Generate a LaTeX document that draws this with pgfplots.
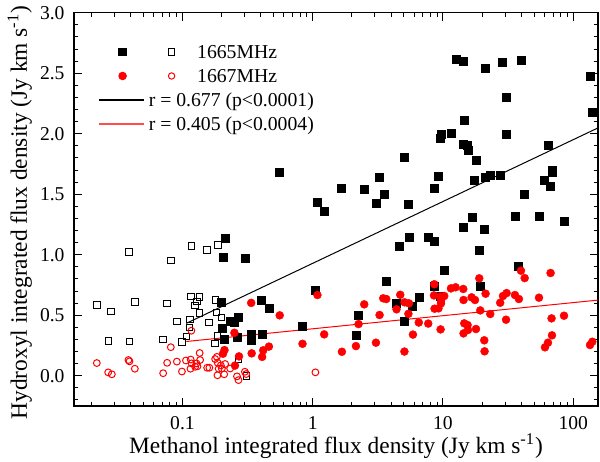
\documentclass[border=0pt]{standalone}
\usepackage{fontspec}
\setmainfont{Liberation Serif}
\usepackage{pgfplots}
\pgfplotsset{compat=1.18}
\usepackage{pgfplotstable}

\pgfplotstableread{
x y
0.556 1.681
1.093 1.431
0.212 1.136
0.205 0.979
0.305 0.967
1.051 0.706
0.197 0.607
0.406 0.624
0.461 0.554
0.231 0.452
0.251 0.441
0.270 0.481
0.204 0.392
0.337 0.342
0.265 0.316
0.413 0.345
0.340 0.293
0.208 0.301
0.831 0.412
1.664 1.551
2.486 1.540
3.243 1.642
3.523 1.496
3.058 1.425
1.225 1.359
4.66 1.066
3.65 0.777
4.38 0.598
2.249 0.499
2.147 0.334
12.59 2.615
14.24 2.598
21.13 2.537
28.4 2.587
39.7 2.607
135.3 2.471
30.8 2.301
140.9 2.179
14.65 2.107
9.66 1.998
9.59 1.959
11.52 2.003
14.24 1.912
15.45 1.904
15.73 1.863
30.5 1.992
64.4 1.907
5.07 1.802
17.93 1.783
9.25 1.645
8.58 1.545
17.39 1.615
21.0 1.636
23.07 1.656
27.5 1.653
68.7 1.700
69.0 1.678
60.3 1.617
67.0 1.568
42.4 1.499
5.44 1.417
16.70 1.306
14.32 1.226
20.75 1.210
35.7 1.314
54.9 1.314
85.4 1.279
5.51 1.140
7.71 1.140
8.62 1.107
19.0 1.039
10.29 0.868
38.2 0.908
19.27 0.739
8.58 0.740
6.54 0.650
5.86 0.574
5.07 0.446
9.53 0.653
}\fsq

\pgfplotstableread{
x y
0.0388 1.022
0.0220 0.584
0.0283 0.532
0.0270 0.287
0.0392 0.281
0.0431 0.609
0.0763 0.595
0.0819 0.954
0.1173 1.072
0.1539 1.039
0.1880 1.080
0.0711 0.301
0.0906 0.450
0.0995 0.279
0.1073 0.322
0.1142 0.464
0.1132 0.400
0.1160 0.655
0.1245 0.579
0.1290 0.615
0.1348 0.650
0.1355 0.517
0.1598 0.440
0.1790 0.627
0.1831 0.521
0.1990 0.483
0.1854 0.330
0.1783 0.268
0.2692 0.140
0.3100 -0.001
}\osq

\pgfplotstableread{
x y
0.0220 0.105
0.0269 0.028
0.0287 0.012
0.0385 0.130
0.0392 0.119
0.0431 0.058
0.0711 0.021
0.0763 0.107
0.0814 0.236
0.0906 0.117
0.0991 0.035
0.1064 0.126
0.1170 0.372
0.1156 0.134
0.1177 0.102
0.1152 0.058
0.1252 0.074
0.1281 0.102
0.1355 0.188
0.1367 0.130
0.1304 0.078
0.1548 0.066
0.1609 0.066
0.1783 0.138
0.1837 0.156
0.1864 0.107
0.1972 0.086
0.1897 0.058
0.2007 0.058
0.2128 0.097
0.1857 0.004
0.2091 0.012
0.2325 0.060
0.2622 -0.005
0.2692 -0.036
0.3015 0.033
0.3085 0.014
1.049 0.028
}\ocir

\pgfplotstableread{
x y
0.337 0.602
0.558 0.499
1.087 0.667
0.2505 0.355
0.835 0.264
0.461 0.241
0.417 0.210
0.409 0.156
0.340 0.185
0.2716 0.160
0.2102 0.212
0.2047 0.182
0.2530 0.084
1.225 0.342
1.676 0.198
2.147 0.245
2.249 0.427
2.486 0.590
3.058 0.273
3.26 0.502
3.479 0.640
3.668 0.634
4.70 0.669
5.07 0.607
5.48 0.598
4.40 0.549
5.43 0.512
6.52 0.440
7.71 0.431
5.88 0.340
5.06 0.200
8.58 0.756
8.53 0.664
9.66 0.620
9.53 0.655
10.23 0.659
8.62 0.554
9.25 0.557
9.66 0.598
9.59 0.383
11.52 0.722
12.50 0.731
14.32 0.717
14.39 0.626
16.59 0.648
17.61 0.626
14.57 0.433
15.45 0.419
14.39 0.350
15.56 0.378
17.93 0.386
19.0 0.805
21.24 0.678
19.34 0.540
23.07 0.510
20.75 0.293
20.87 0.202
27.5 0.603
28.9 0.659
30.8 0.683
30.5 0.463
35.7 0.667
38.3 0.634
39.7 0.868
42.4 0.807
54.6 0.645
67.0 0.849
68.2 0.474
85.0 0.496
68.7 0.334
64.0 0.273
60.7 0.235
140.2 0.281
134.6 0.254
}\fcir

\begin{document}
\begin{tikzpicture}
\begin{axis}[
  xmode=log,
  scale only axis,
  width=262pt, height=196.65pt,
  xmin=0.0147, xmax=155, ymin=-0.25, ymax=3.0,
  xtick={0.1,1,10,100}, xticklabels={0.1,1,10,100},
  minor xtick={0.02,0.03,0.04,0.05,0.06,0.07,0.08,0.09,0.2,0.3,0.4,0.5,0.6,0.7,0.8,0.9,2,3,4,5,6,7,8,9,20,30,40,50,60,70,80,90},
  ytick={0,0.5,1,1.5,2,2.5,3},
  yticklabels={0.0,0.5,1.0,1.5,2.0,2.5,3.0},
  minor ytick={-0.2,-0.1,0.1,0.2,0.3,0.4,0.6,0.7,0.8,0.9,1.1,1.2,1.3,1.4,1.6,1.7,1.8,1.9,2.1,2.2,2.3,2.4,2.6,2.7,2.8,2.9},
  tick align=inside,
  major tick length=4pt, minor tick length=2pt,
  axis line style={line width=0.6pt},
  every tick/.style={line width=0.5pt, black},
  tick label style={font=\fontsize{9.8}{11}\selectfont},
  xticklabel style={inner sep=0pt, yshift=-5pt},
  yticklabel style={xshift=-1.2pt},
  xlabel={Methanol integrated flux density (Jy km s\textsuperscript{-1})},
  ylabel={Hydroxyl integrated flux density (Jy km s\textsuperscript{-1})},
  label style={font=\fontsize{11.7}{14}\selectfont, inner sep=0pt},
  xlabel style={at={(axis description cs:0.5,-0.1208)}, anchor=base},
  ylabel style={at={(axis description cs:-0.0897,0.492)}, anchor=base},
  legend cell align=left,
  legend style={at={(axis description cs:0.0477,0.9174)}, anchor=north west,
    draw=none, fill=none, inner sep=0pt, outer sep=0pt,
    column sep=2.5pt, row sep=5.2pt,
    nodes={inner sep=0pt, outer sep=0pt, text height=6.8pt, text depth=0pt},
    font=\fontsize{9.85}{11}\selectfont},
]
\addplot[only marks, mark=square, mark size=1.6pt, mark options={line width=0.5pt, draw=black}, forget plot] table {\osq};
\addplot[only marks, mark=square*, mark size=2.0pt, mark options={line width=0.3pt, draw=black, fill=black}, forget plot] table {\fsq};
\addplot[only marks, mark=o, mark size=1.7pt, mark options={line width=0.5pt, draw=red}, forget plot] table {\ocir};
\addplot[only marks, mark=*, mark size=2.0pt, mark options={line width=0.2pt, draw=red, fill=red}, forget plot] table {\fcir};
\addplot[black, line width=0.5pt, forget plot] coordinates {(0.107,0.433) (155,2.048)};
\addplot[red, line width=0.5pt, forget plot] coordinates {(0.107,0.283) (155,0.625)};

\addlegendimage{black, legend image code/.code={
  \fill[black] (9.68pt,-1.92pt) rectangle (13.52pt,1.92pt);
  \draw[overlay, black, line width=0.5pt] (34.6pt,-1.6pt) rectangle (37.6pt,1.6pt);
}}
\addlegendentry{\hspace{24.2pt}1665MHz}
\addlegendimage{red, legend image code/.code={
  \fill[red] (11.6pt,0pt) circle (1.92pt);
  \draw[overlay, red, line width=0.5pt] (36.1pt,0pt) circle (1.6pt);
}}
\addlegendentry{\hspace{24.2pt}1667MHz}
\addlegendimage{black, legend image code/.code={
  \fill[black] (0pt,-0.18pt) rectangle (22pt,0.18pt);
}}
\addlegendentry{r = 0.677 (p<0.0001)}
\addlegendimage{red, fill=red, legend image code/.code={
  \fill[red!70!white] (0pt,-0.4pt) rectangle (22pt,0.4pt);
}}
\addlegendentry{r = 0.405 (p<0.0004)}
\end{axis}
\pgfresetboundingbox
\path ([shift={(-37pt,-27.5pt)}]current axis.south west) rectangle ([shift={(1pt,6.35pt)}]current axis.north east);
\end{tikzpicture}
\end{document}
